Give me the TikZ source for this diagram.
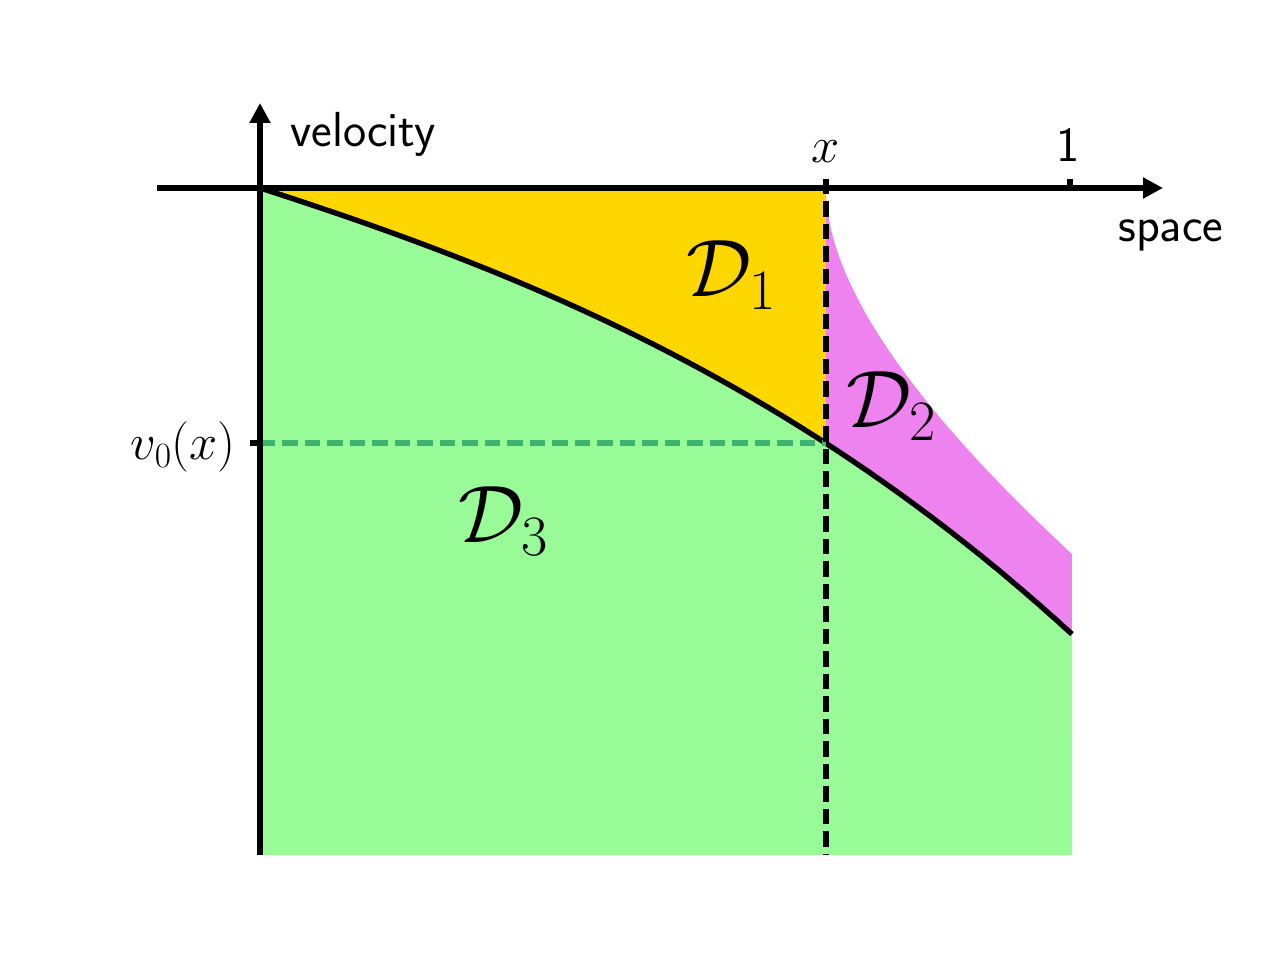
\RequirePackage{fix-cm}
\documentclass[tikz,border=0pt]{standalone}
\usepackage{amsmath}
\usepackage{fontspec}
\usetikzlibrary{arrows.meta, positioning}
\definecolor{mpgold}{HTML}{FFD700}
\definecolor{mpgreen}{HTML}{98FB98}
\definecolor{mpviolet}{HTML}{EE82EE}
\definecolor{mpseagreen}{HTML}{3CB371}

\tikzset{
  axisline/.style={line width=3.8pt, -{Triangle[length=0.5cm, width=0.5cm]}},
  tickline/.style={line width=3.8pt},
  guideline/.style={line width=3.8pt, dash pattern=on 11pt off 5pt},
  txtlabel/.style={font=\sffamily\fontsize{35}{40}\selectfont, inner sep=0pt},
  mathlabel/.style={font=\fontsize{36}{42}\selectfont, inner sep=0pt},
  regionlabel/.style={font=\fontsize{58}{66}\selectfont, inner sep=0pt},
  declare function={vel(\t)=0.32145*\t+0.004431*\t*\t+0.0003316*\t*\t*\t;}
}

\begin{document}
\begin{tikzpicture}
                \useasboundingbox (-6.5,4.7) rectangle (25.5,-19.3);

                % Key points
                \coordinate (O) at (0,0);
                \coordinate (xtop) at (14.15,0.225);
                \coordinate (xbot) at (14.15,-16.675);
                \coordinate (vx) at (14.15,-6.375);
                \coordinate (vleft) at (0,-6.375);

                % Regions
                \fill[mpgold] (O) rectangle (vx);
                \fill[mpviolet] plot[domain=0:2.48, samples=80] ({14.15+\x*\x}, {-(2.785*\x+0.365*\x*\x)})
                    -- (20.3,-11.2) -- (14.15,-11.2) -- cycle;
                \fill[mpgreen] plot[domain=0:20.3, samples=100] (\x, {-vel(\x)})
                    -- (20.3,-16.675) -- (0,-16.675) -- cycle;

                % Boundary curve
                \draw[line width=3.8pt] plot[domain=0:20.3, samples=100] (\x, {-vel(\x)});

                % Guides
                \draw[guideline, mpseagreen] (vleft) -- (vx);
                \draw[guideline] (xtop) -- (xbot);

                % Axes
                \draw[axisline] (-2.575,0) -- (22.575,0);
                \draw[axisline] (0,-16.675) -- (0,2.125);
                \draw[tickline] (20.25,0) -- (20.25,0.225);
                \draw[tickline] (-0.25,-6.375) -- (vleft);

                % Labels
                \node[txtlabel, anchor=base west] (velocity) at (0.75,1.025) {velocity};
                \node[txtlabel, anchor=base west] (space) at (21.45,-1.35) {space};
                \node[txtlabel, anchor=base] (one) at (20.2,0.65) {1};
                \node[mathlabel, anchor=base] (xlabel) at (14.15,0.625) {$x$};
                \node[mathlabel, anchor=base east] (vzero) at (-0.6,-6.8) {$v_0(x)$};
                \node[regionlabel, anchor=base west] (Done) at (10.65,-2.725) {$\mathcal{D}_1$};
                \node[regionlabel, anchor=base west] (Dtwo) at (14.65,-6.0) {$\mathcal{D}_2$};
                \node[regionlabel, anchor=base west] (Dthree) at (4.95,-8.875) {$\mathcal{D}_3$};
\end{tikzpicture}
\end{document}
